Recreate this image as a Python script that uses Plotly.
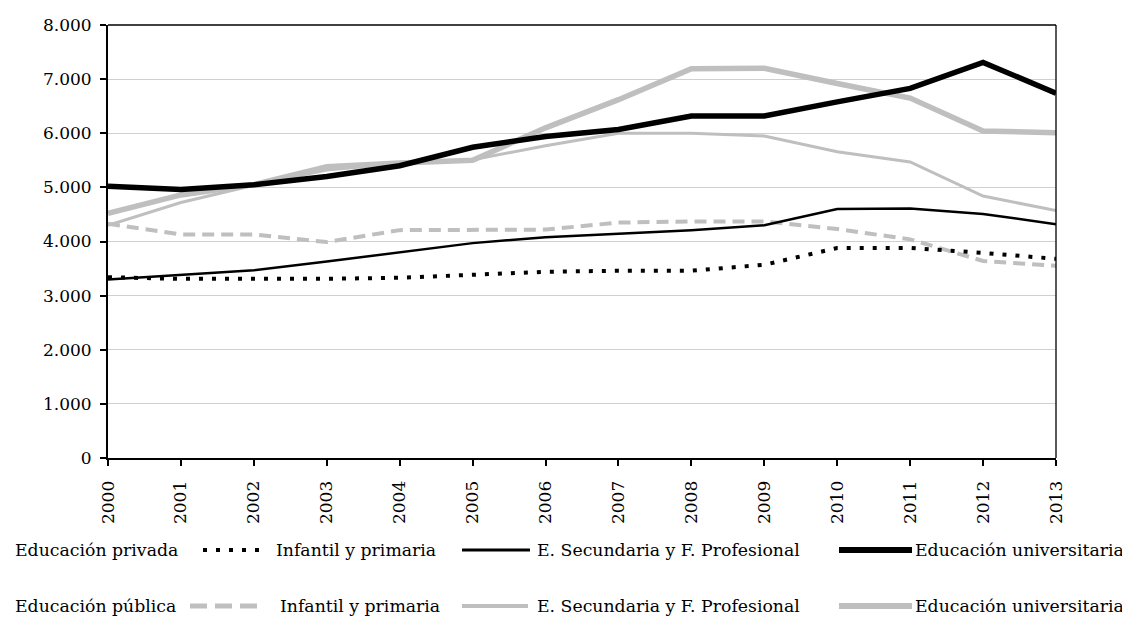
import plotly.graph_objects as go

years = [2000, 2001, 2002, 2003, 2004, 2005, 2006, 2007, 2008, 2009, 2010, 2011, 2012, 2013]

priv_infantil = [3340, 3310, 3310, 3310, 3330, 3380, 3440, 3460, 3460, 3570, 3880, 3880, 3790, 3680]
priv_secundaria = [3300, 3380, 3470, 3630, 3800, 3970, 4080, 4150, 4210, 4300, 4600, 4610, 4510, 4320]
priv_univ = [5020, 4960, 5050, 5200, 5400, 5740, 5940, 6070, 6320, 6320, 6580, 6830, 7310, 6740]

pub_infantil = [4330, 4130, 4130, 3990, 4210, 4210, 4220, 4350, 4370, 4370, 4230, 4040, 3640, 3550]
pub_secundaria = [4300, 4720, 5040, 5320, 5440, 5510, 5770, 6000, 6000, 5950, 5660, 5470, 4840, 4570]
pub_univ = [4520, 4860, 5050, 5380, 5450, 5500, 6100, 6620, 7190, 7200, 6920, 6650, 6040, 6010]

group_labels = ["Educación privada", "Educación pública"]
series_labels = ["Infantil y primaria", "E. Secundaria y F. Profesional", "Educación universitaria"]

BLACK = "#000000"
GRAY = "#BFBFBF"
FONT = "DejaVu Serif"

fig = go.Figure()

styles = [
    (pub_infantil, GRAY, 4, "12px,7px"),
    (pub_secundaria, GRAY, 3, "solid"),
    (pub_univ, GRAY, 5.5, "solid"),
    (priv_infantil, BLACK, 4, "4px,9px"),
    (priv_secundaria, BLACK, 2.5, "solid"),
    (priv_univ, BLACK, 5.5, "solid"),
]
names = [f"{group_labels[1]} {s}" for s in series_labels] + [f"{group_labels[0]} {s}" for s in series_labels]
for (vals, col, w, dash), nm in zip(styles, names):
    fig.add_trace(go.Scatter(x=years, y=vals, mode="lines", name=nm,
                             line=dict(color=col, width=w, dash=dash),
                             showlegend=False, hoverinfo="x+y+name"))

# page offset (body margin) and figure size
OFF = 8
FW, FH = 1130, 618
# plot area in screen pixels
L, R, T, B = 108, 1056, 25, 458
W, H = R - L, B - T
def px(x):
    return (x - L) / W
def py(y):
    return (B - y) / H

shapes = []
shapes.append(dict(type="line", xref="paper", yref="paper", x0=0, x1=1, y0=1, y1=1,
                   line=dict(color=BLACK, width=1.3)))
shapes.append(dict(type="line", xref="paper", yref="paper", x0=1, x1=1, y0=0, y1=1,
                   line=dict(color=BLACK, width=1.3)))

annotations = []
rows = [550, 606]
sample_specs = [
    [((203, 268), BLACK, 4, "4px,9px"), ((462, 530), BLACK, 3, "solid"), ((839, 912), BLACK, 6, "solid")],
    [((190, 263), GRAY, 5, "17px,8px"), ((462, 528), GRAY, 4, "solid"), ((839, 912), GRAY, 6, "solid")],
]
text_x = [[274, 535, 913], [278, 535, 913]]
LEG_SIZE = 17.3
for r, yrow in enumerate(rows):
    annotations.append(dict(text=group_labels[r], xref="paper", yref="paper",
                            x=px(13), y=py(yrow), xanchor="left", yanchor="middle",
                            showarrow=False, font=dict(family=FONT, size=LEG_SIZE, color=BLACK)))
    for k in range(3):
        (x0, x1), col, w, dash = sample_specs[r][k]
        shapes.append(dict(type="line", xref="paper", yref="paper",
                           x0=px(x0), x1=px(x1), y0=py(yrow), y1=py(yrow),
                           line=dict(color=col, width=w, dash=dash)))
        annotations.append(dict(text=series_labels[k], xref="paper", yref="paper",
                                x=px(text_x[r][k]), y=py(yrow), xanchor="left", yanchor="middle",
                                showarrow=False, font=dict(family=FONT, size=LEG_SIZE, color=BLACK)))

fig.update_layout(
    width=FW, height=FH,
    margin=dict(l=L - OFF, r=FW - (R - OFF), t=T - OFF, b=FH - (B - OFF), autoexpand=False),
    paper_bgcolor="white", plot_bgcolor="white",
    separators=",.",
    font=dict(family=FONT, size=17, color=BLACK),
    shapes=shapes, annotations=annotations,
    xaxis=dict(range=[years[0], years[-1]], tickmode="array", tickvals=years,
               ticktext=[str(y) for y in years], tickangle=-90,
               showgrid=False, zeroline=False, showline=True, linecolor=BLACK, linewidth=2,
               ticks="outside", ticklen=6, tickwidth=1.5, tickcolor=BLACK, ticklabelstandoff=8,
               tickfont=dict(family=FONT, size=17, color=BLACK), fixedrange=True),
    yaxis=dict(range=[0, 8000], tickmode="linear", tick0=0, dtick=1000, tickformat=",.0f",
               showgrid=True, gridcolor="#D0D0D0", gridwidth=1, zeroline=False,
               showline=True, linecolor=BLACK, linewidth=2,
               ticks="outside", ticklen=6, tickwidth=1.5, tickcolor=BLACK, ticklabelstandoff=5,
               tickfont=dict(family=FONT, size=17, color=BLACK), fixedrange=True),
)

fig.write_html("out.html")
